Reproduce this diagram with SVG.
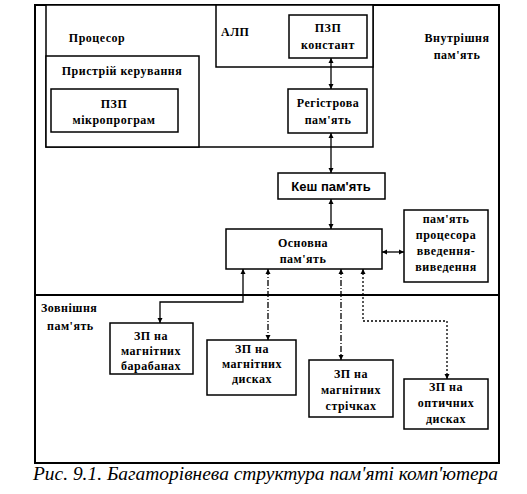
<svg xmlns="http://www.w3.org/2000/svg" width="527" height="494" viewBox="0 0 527 494">
<defs>
<marker id="ah" viewBox="0 0 10 10" refX="10" refY="5" markerWidth="5" markerHeight="6" orient="auto-start-reverse" markerUnits="userSpaceOnUse">
<path d="M0,0 L10,5 L0,10 z" fill="#000"/>
</marker>
<style>
.b{fill:#fff;stroke:#000;stroke-width:1.5}
.f{fill:none;stroke:#000;stroke-width:2}
.t{font-family:"Liberation Serif","Times New Roman",serif;font-weight:bold;font-size:12px;fill:#000;text-anchor:middle;letter-spacing:0.5px}
.l{text-anchor:start}
.s{font-family:"Liberation Sans",Arial,sans-serif;font-weight:bold;font-size:13px;fill:#000;text-anchor:middle}
.c{fill:none;stroke:#000;stroke-width:1.3;marker-start:url(#ah);marker-end:url(#ah)}
.d{stroke-dasharray:6,2,1,2}
.o{stroke-dasharray:2,2}
.cap{font-family:"Liberation Serif","Times New Roman",serif;font-style:italic;font-size:18px;fill:#000}
</style>
</defs>
<g id="outer">
<rect class="f" x="35" y="5" width="464" height="458"/>
<line class="f" x1="35" y1="295" x2="499" y2="295"/>
<text class="t" x="457" y="42">Внутрішня</text>
<text class="t" x="457" y="59">пам'ять</text>
<text class="t l" x="41" y="312">Зовнішня</text>
<text class="t l" x="47" y="330">пам'ять</text>
</g>
<g id="processor">
<rect class="b" x="46" y="5" width="327" height="142"/>
<text class="t" x="97" y="42">Процесор</text>
</g>
<g id="control">
<rect class="b" x="46" y="56" width="153" height="91"/>
<text class="t" x="122" y="75">Пристрій керування</text>
</g>
<g id="rom-micro">
<rect class="b" x="51" y="89" width="127" height="43"/>
<text class="t" x="114" y="108">ПЗП</text>
<text class="t" x="114" y="124">мікропрограм</text>
</g>
<g id="alu">
<rect class="b" x="216" y="5" width="157" height="62"/>
<text class="t l" x="221" y="36">АЛП</text>
</g>
<g id="rom-const">
<rect class="b" x="289" y="15" width="78" height="43"/>
<text class="t" x="328" y="32">ПЗП</text>
<text class="t" x="328" y="49">констант</text>
</g>
<g id="registers">
<rect class="b" x="288" y="89" width="79" height="44"/>
<text class="t" x="328" y="107">Регістрова</text>
<text class="t" x="328" y="124">пам'ять</text>
</g>
<g id="cache">
<rect class="b" x="278" y="173" width="107" height="26"/>
<text class="s" x="331" y="191">Кеш пам'ять</text>
</g>
<g id="main">
<rect class="b" x="226" y="229" width="156" height="40"/>
<text class="t" x="303" y="247">Основна</text>
<text class="t" x="303" y="263">пам'ять</text>
</g>
<g id="io">
<rect class="b" x="404" y="210" width="84" height="72"/>
<text class="t" x="446" y="223">пам'ять</text>
<text class="t" x="446" y="239">процесора</text>
<text class="t" x="446" y="255">введення-</text>
<text class="t" x="446" y="271">виведення</text>
</g>
<g id="drums">
<rect class="b" x="110" y="323" width="83" height="51"/>
<text class="t" x="151" y="340">ЗП на</text>
<text class="t" x="151" y="355">магнітних</text>
<text class="t" x="151" y="370">барабанах</text>
</g>
<g id="disks">
<rect class="b" x="207" y="340" width="89" height="55"/>
<text class="t" x="252" y="353">ЗП на</text>
<text class="t" x="252" y="368">магнітних</text>
<text class="t" x="252" y="383">дисках</text>
</g>
<g id="tapes">
<rect class="b" x="309" y="360" width="84" height="57"/>
<text class="t" x="351" y="378">ЗП на</text>
<text class="t" x="351" y="394">магнітних</text>
<text class="t" x="351" y="410">стрічках</text>
</g>
<g id="optical">
<rect class="b" x="404" y="379" width="84" height="50"/>
<text class="t" x="446" y="391">ЗП на</text>
<text class="t" x="446" y="407">оптичних</text>
<text class="t" x="446" y="423">дисках</text>
</g>
<g id="connectors">
<line class="c" x1="331" y1="58" x2="331" y2="89"/>
<line class="c" x1="331" y1="133" x2="331" y2="173"/>
<line class="c" x1="331" y1="199" x2="331" y2="229"/>
<line class="c" x1="382" y1="252" x2="404" y2="252"/>
<polyline class="c" points="243,269 243,302 160,302 160,323"/>
<line class="c d" x1="268" y1="269" x2="268" y2="340"/>
<line class="c d" x1="341" y1="269" x2="341" y2="360"/>
<polyline class="c o" points="363,269 363,321 447,321 447,379"/>
</g>
<text class="cap" x="33" y="480" textLength="465" lengthAdjust="spacingAndGlyphs">Рис. 9.1. Багаторівнева структура пам'яті комп'ютера</text>
</svg>
